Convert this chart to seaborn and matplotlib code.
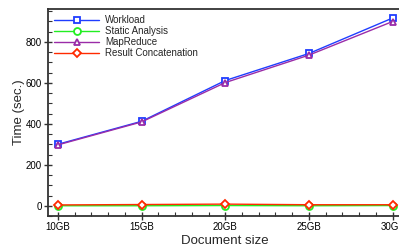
import pandas as pd
import matplotlib
matplotlib.use("Agg")
import matplotlib.pyplot as plt
import seaborn as sns
from matplotlib.ticker import MultipleLocator

# Dati
sizes = [10, 15, 20, 25, 30]
size_labels = ["10GB", "15GB", "20GB", "25GB", "30GB"]
workload = [300, 412, 611, 743, 916]
static_analysis = [0, 0, 1, 0, 1]
mapreduce = [297, 409, 601, 735, 899]
result_concat = [4, 6, 8, 5, 5]

series = ["Workload", "Static Analysis", "MapReduce", "Result Concatenation"]
df = pd.DataFrame({
    "size": sizes * 4,
    "time": workload + static_analysis + mapreduce + result_concat,
    "series": sum([[s] * len(sizes) for s in series], []),
})

sns.set_style("ticks")
plt.rcParams["font.family"] = ["Liberation Sans", "DejaVu Sans"]

colors = {"Workload": "#1f3dff", "Static Analysis": "#22ee22",
          "MapReduce": "#9a2ca8", "Result Concatenation": "#ff2a00"}
markers = {"Workload": "s", "Static Analysis": "o",
           "MapReduce": "^", "Result Concatenation": "D"}

fig = plt.figure(figsize=(3.99, 2.5), dpi=100)
ax = fig.add_axes([0.12, 0.136, 0.885, 0.828])

for s in series:
    sns.lineplot(data=df[df["series"] == s], x="size", y="time", ax=ax,
                 color=colors[s], marker=markers[s],
                 markersize=5 if s != "Result Concatenation" else 4.3,
                 markerfacecolor="white", markeredgecolor=colors[s], markeredgewidth=1.3,
                 linewidth=1.0, label=s)

ax.set_xlim(9.4, 30.5)
ax.set_ylim(-50, 960)
ax.set_xticks(sizes)
ax.set_xticklabels(size_labels)
ax.xaxis.set_minor_locator(MultipleLocator(1))
ax.yaxis.set_major_locator(MultipleLocator(200))
ax.yaxis.set_minor_locator(MultipleLocator(50))
ax.tick_params(which="major", direction="inout", length=6, width=1, labelsize=7,
               colors="#333333", pad=1.5)
ax.tick_params(which="minor", direction="in", length=3, width=0.8, colors="#333333")
ax.tick_params(axis="both", labelcolor="black")
for sp in ax.spines.values():
    sp.set_color("#333333")
    sp.set_linewidth(1.3)

ax.set_xlabel("Document size", fontsize=9.5, labelpad=2)
ax.set_ylabel("Time (sec.)", fontsize=9.5, labelpad=0.5)

leg = ax.legend(loc="upper left", frameon=False, fontsize=7, handlelength=4.6,
                borderaxespad=0.25, labelspacing=0.1, handletextpad=0.6)

fig.savefig("out.png", dpi=100)
